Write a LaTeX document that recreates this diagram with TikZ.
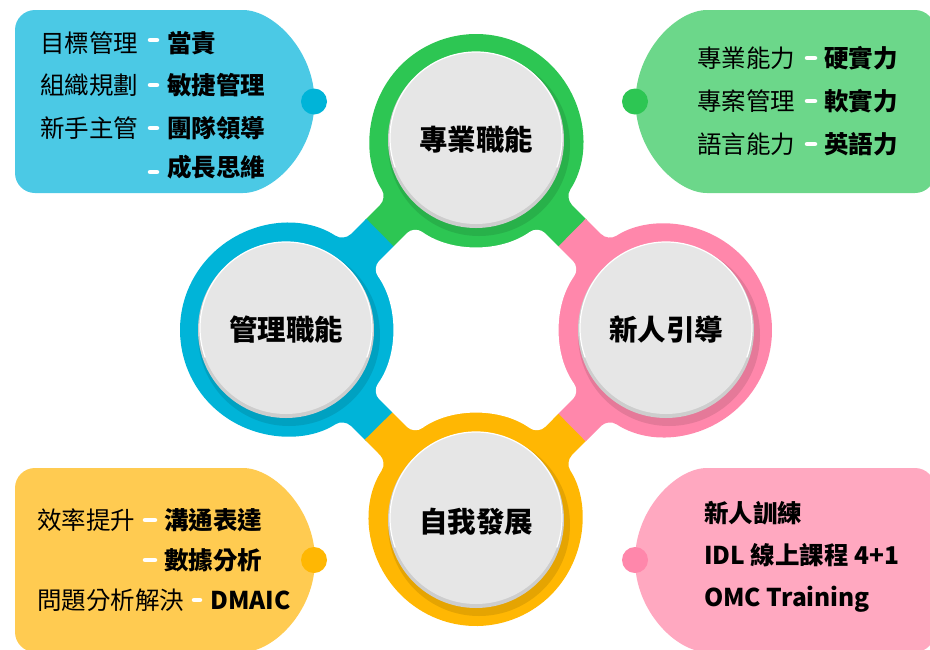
\documentclass[tikz,border=0pt]{standalone}
\usepackage{fontspec}
\setmainfont{Noto Sans CJK TC}
\definecolor{ringgreen}{HTML}{2DC653}
\definecolor{ringblue}{HTML}{00B4D8}
\definecolor{ringyellow}{HTML}{FFB703}
\definecolor{ringpink}{HTML}{FF87AB}
\definecolor{boxgreen}{HTML}{6CD78A}
\definecolor{boxblue}{HTML}{4BC9E5}
\definecolor{boxyellow}{HTML}{FFCB51}
\definecolor{boxpink}{HTML}{FFA8C0}
\definecolor{discface}{HTML}{E6E6E6}
\definecolor{disclip}{HTML}{CDCDCD}
\newcommand\ringpath{(110.5,-110.5) -- (88.84,-132.16) arc[start angle=33.07,end angle=-213.07,radius=106]
  -- (-132.16,-88.84) arc[start angle=-56.93,end angle=-303.07,radius=106]
  -- (-88.84,132.16) arc[start angle=-146.93,end angle=-393.07,radius=106]
  -- (132.16,88.84) arc[start angle=-236.93,end angle=-483.07,radius=106]
  -- cycle}
\newcommand\holepath{(83,-83) -- (104.01,-61.99) arc[start angle=-144.22,end angle=-215.78,radius=106]
  -- (61.99,104.01) arc[start angle=-54.22,end angle=-125.78,radius=106]
  -- (-104.01,61.99) arc[start angle=35.78,end angle=-35.78,radius=106]
  -- (-61.99,-104.01) arc[start angle=-234.22,end angle=-305.78,radius=106]
  -- cycle}
\tikzset{
  lt/.style={anchor=west, inner sep=0pt, font=\fontsize{24.5}{24.5}\selectfont, text height=18.6pt, text depth=0pt},
  bt/.style={lt, font=\fontsize{24.5}{24.5}\selectfont\bfseries},
  dashmark/.style={white, line width=4.5pt, line cap=round},
  hub/.style={inner sep=0pt, font=\fontsize{28.5}{28.5}\selectfont\bfseries, text height=21.7pt, text depth=0pt},
  dotmark/.style={circle, minimum size=26pt, inner sep=0pt},
}
\begin{document}
\begin{tikzpicture}[x=1pt,y=-1pt]
\useasboundingbox (0,0) rectangle (930,649);
% side boxes
\fill[boxblue, rounded corners=20] (15,10) -- (223,10) arc[start angle=-90,end angle=90,radius=91.5] -- (15,193) -- cycle;
\fill[boxgreen, rounded corners=20] (935,10) -- (727,10) arc[start angle=-90,end angle=-270,radius=91.5] -- (935,193) -- cycle;
\fill[boxyellow, rounded corners=20] (15,468) -- (223,468) arc[start angle=-90,end angle=90,radius=92] -- (15,652) -- cycle;
\fill[boxpink, rounded corners=20] (935,468) -- (727,468) arc[start angle=-90,end angle=-270,radius=92] -- (935,652) -- cycle;
\node[dotmark, fill=ringblue] (d1) at (314,101.5) {};
\node[dotmark, fill=ringgreen] (d2) at (635,101.5) {};
\node[dotmark, fill=ringyellow] (d3) at (314,560) {};
\node[dotmark, fill=ringpink] (d4) at (635,560) {};
% ring shape
\begin{scope}[shift={(476,330)}, rounded corners=10]
  \foreach \col/\a in {ringgreen/-90, ringblue/180, ringyellow/90, ringpink/0} {
    \begin{scope}
      \clip (0,0) -- (\a-45.4:450) -- (\a:640) -- (\a+45.4:450) -- cycle;
      \fill[\col] \ringpath;
    \end{scope}
  }
  \fill[white] \holepath;
\end{scope}
% discs
\foreach \cx/\cy in {476/140, 286/330, 666/330, 476/520} {
  \fill[black, opacity=0.10] (\cx+3,\cy+5) circle (91);
  \fill[disclip] (\cx,\cy) circle (88);
  \fill[discface] (\cx,\cy-2) circle (86);
  \draw[white, line width=1.2pt] (\cx,\cy-2) ++(160:86) arc[start angle=160, end angle=380, radius=86];
}
\node[hub] (h1) at (476,140) {專業職能};
\node[hub] (h2) at (286,330) {管理職能};
\node[hub] (h3) at (666,330) {新人引導};
\node[hub] (h4) at (476,522) {自我發展};
% top-left texts
\node[lt] (a1) at (40,43) {目標管理};
\node[lt] (a2) at (40,85) {組織規劃};
\node[lt] (a3) at (40,128) {新手主管};
\node[bt] (b1) at (167,43) {當責};
\node[bt] (b2) at (167,85) {敏捷管理};
\node[bt] (b3) at (167,128) {團隊領導};
\node[bt] (b4) at (167,167) {成長思維};
\draw[dashmark] (150,40) -- (157,40);
\draw[dashmark] (150,85) -- (157,85);
\draw[dashmark] (150,128) -- (157,128);
\draw[dashmark] (150,172) -- (157,172);
% top-right texts
\node[lt] (c1) at (697,58) {專業能力};
\node[lt] (c2) at (697,101) {專案管理};
\node[lt] (c3) at (697,144) {語言能力};
\node[bt] (e1) at (824,58) {硬實力};
\node[bt] (e2) at (824,101) {軟實力};
\node[bt] (e3) at (824,144) {英語力};
\draw[dashmark] (807,58) -- (815,58);
\draw[dashmark] (807,101) -- (815,101);
\draw[dashmark] (807,144) -- (815,144);
% bottom-left texts
\node[lt] (f1) at (37,520) {效率提升};
\node[lt] (f3) at (37,600) {問題分析解決};
\node[bt] (g1) at (164,520) {溝通表達};
\node[bt] (g2) at (164,560) {數據分析};
\node[bt] (g3) at (210,600) {DMAIC};
\draw[dashmark] (145,520) -- (155,520);
\draw[dashmark] (145,560) -- (155,560);
\draw[dashmark] (194,600) -- (200,600);
% bottom-right texts
\node[bt] (k1) at (704,513) {新人訓練};
\node[bt] (k2) at (704,555) {IDL 線上課程 4+1};
\node[bt] (k3) at (704,597) {OMC Training};
\end{tikzpicture}
\end{document}
